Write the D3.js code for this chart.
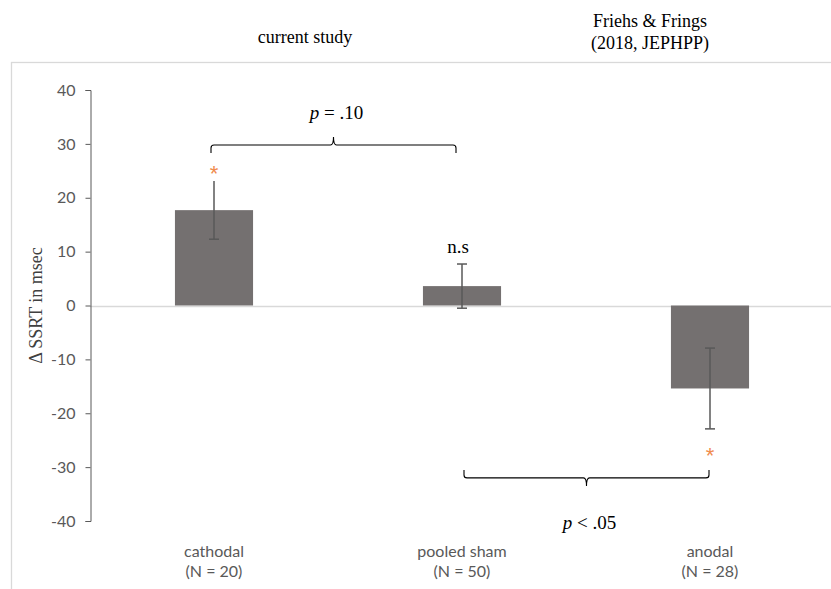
<!DOCTYPE html>
<html>
<head>
<meta charset="utf-8">
<script src="https://cdn.jsdelivr.net/npm/d3@7"></script>
<style>
  html, body { margin: 0; padding: 0; background: #fff; }
  svg { display: block; }
</style>
</head>
<body>
<svg id="chart" width="831" height="589"></svg>
<script>
// ---- data ----
const categories = ["cathodal", "pooled sham", "anodal"];
const sampleSizes = ["(N = 20)", "(N = 50)", "(N = 28)"];
const means = [17.7, 3.6, -15.4];
const errors = [5.4, 4.1, 7.5];
const significance = ["*", "n.s", "*"];
const yTicks = [40, 30, 20, 10, 0, -10, -20, -30, -40];
const comparisons = [
  { from: 0, to: 1, label: "= .10", level: 29.8 },
  { from: 1, to: 2, label: "< .05", level: -32 }
];

// ---- layout ----
const svg = d3.select("#chart");
const W = 831, H = 589;
const plotLeft = 90, plotRight = 834, plotTop = 90, plotBottom = 521;
const serif = "'Liberation Serif', 'Times New Roman', serif";
const sans = "Lato, 'Open Sans', sans-serif";

const x = d3.scaleBand().domain(categories).range([plotLeft, plotRight]).paddingInner(0.685).paddingOuter(0.3425);
const y = d3.scaleLinear().domain([-40, 40]).range([plotBottom, plotTop]);
const cxOf = c => x(c) + x.bandwidth() / 2;

// outer frame
svg.append("rect")
  .attr("x", 11.5).attr("y", 62.5)
  .attr("width", 840).attr("height", 560)
  .attr("fill", "none").attr("stroke", "#d9d9d9").attr("stroke-width", 1.3);

// zero line
svg.append("line")
  .attr("x1", plotLeft).attr("x2", W + 5)
  .attr("y1", Math.round(y(0)) + 0.5).attr("y2", Math.round(y(0)) + 0.5)
  .attr("stroke", "#d9d9d9").attr("stroke-width", 1.3);

// y axis
const yAxis = d3.axisLeft(y).tickValues(yTicks).tickSize(5).tickPadding(10).tickFormat(d => String(d));
const gy = svg.append("g").attr("transform", `translate(${plotLeft + 0.5},0)`).call(yAxis);
gy.select(".domain").attr("stroke", "#595959").attr("stroke-width", 1);
gy.selectAll(".tick line").attr("stroke", "#595959");
gy.selectAll(".tick text")
  .attr("fill", "#595959")
  .style("font-family", sans)
  .style("font-size", "16px");

// y-axis title
svg.append("text")
  .attr("transform", `translate(42,${y(0)}) rotate(-90)`)
  .attr("text-anchor", "middle")
  .attr("fill", "#404040")
  .style("font-family", serif)
  .style("font-size", "18px")
  .text("Δ SSRT in msec");

// bars
svg.selectAll("rect.bar")
  .data(categories)
  .enter().append("rect")
  .attr("class", "bar")
  .attr("x", d => x(d))
  .attr("width", x.bandwidth())
  .attr("y", (d, i) => y(Math.max(0, means[i])))
  .attr("height", (d, i) => Math.abs(y(means[i]) - y(0)))
  .attr("fill", "#747070");

// error bars
const eb = svg.append("g").attr("stroke", "#595959").attr("stroke-width", 1.5);
categories.forEach((c, i) => {
  const cx = cxOf(c);
  const hi = means[i] + errors[i], lo = means[i] - errors[i];
  eb.append("line").attr("x1", cx).attr("x2", cx).attr("y1", y(hi)).attr("y2", y(lo));
  if (i !== 0) {
    eb.append("line").attr("x1", cx - 5).attr("x2", cx + 5).attr("y1", y(hi)).attr("y2", y(hi));
  }
  eb.append("line").attr("x1", cx - 5).attr("x2", cx + 5).attr("y1", y(lo)).attr("y2", y(lo));
});

// significance markers
categories.forEach((c, i) => {
  const cx = cxOf(c);
  const s = significance[i];
  if (s === "*") {
    const yy = means[i] >= 0 ? y(means[i] + errors[i]) : y(means[i] - errors[i]) + 34;
    svg.append("text")
      .attr("x", cx).attr("y", yy)
      .attr("text-anchor", "middle")
      .attr("fill", "#f08c4e")
      .style("font-family", "'Liberation Sans', Arial, sans-serif")
      .style("font-size", "22px")
      .text("*");
  } else {
    svg.append("text")
      .attr("x", cx - 4).attr("y", y(means[i] + errors[i]) - 11)
      .attr("text-anchor", "middle")
      .attr("fill", "#000")
      .style("font-family", serif)
      .style("font-size", "19px")
      .text(s);
  }
});

// comparison brackets
const bracketInset = [[-3, -6], [2, -1]];
comparisons.forEach((cmp, k) => {
  const x1 = cxOf(categories[cmp.from]) + bracketInset[k][0];
  const x2 = cxOf(categories[cmp.to]) + bracketInset[k][1];
  const xm = (x1 + x2) / 2;
  const yl = y(cmp.level);
  const up = cmp.level > 0;
  const dir = up ? 1 : -1;
  const r = 3;
  const p = d3.path();
  p.moveTo(x1, yl + dir * 8);
  p.lineTo(x1, yl + dir * r);
  p.quadraticCurveTo(x1, yl, x1 + r, yl);
  p.lineTo(xm - r, yl);
  p.quadraticCurveTo(xm, yl, xm, yl - dir * 8);
  p.quadraticCurveTo(xm, yl, xm + r, yl);
  p.lineTo(x2 - r, yl);
  p.quadraticCurveTo(x2, yl, x2, yl + dir * r);
  p.lineTo(x2, yl + dir * 8);
  svg.append("path").attr("d", p.toString())
    .attr("fill", "none").attr("stroke", "#000").attr("stroke-width", 1.1);

  const ty = up ? yl - 26 : yl + 51;
  const t = svg.append("text")
    .attr("x", xm + 3).attr("y", ty)
    .attr("text-anchor", "middle")
    .attr("fill", "#000")
    .style("font-family", serif)
    .style("font-size", "19px");
  t.append("tspan").style("font-style", "italic").text("p");
  t.append("tspan").text(" " + cmp.label);
});

// category labels
categories.forEach((c, i) => {
  const cx = cxOf(c);
  const t = svg.append("text")
    .attr("x", cx).attr("y", 557)
    .attr("text-anchor", "middle")
    .attr("fill", "#595959")
    .style("font-family", sans)
    .style("font-size", "16px");
  t.append("tspan").attr("x", cx).attr("dy", 0).text(c);
  t.append("tspan").attr("x", cx).attr("dy", 20).text(sampleSizes[i]);
});

// header labels
svg.append("text").attr("x", 305).attr("y", 43).attr("text-anchor", "middle")
  .style("font-family", serif).style("font-size", "18px").text("current study");
svg.append("text").attr("x", 650).attr("y", 27).attr("text-anchor", "middle")
  .style("font-family", serif).style("font-size", "18px").text("Friehs & Frings");
svg.append("text").attr("x", 650).attr("y", 49).attr("text-anchor", "middle")
  .style("font-family", serif).style("font-size", "18px").text("(2018, JEPHPP)");
</script>
</body>
</html>
